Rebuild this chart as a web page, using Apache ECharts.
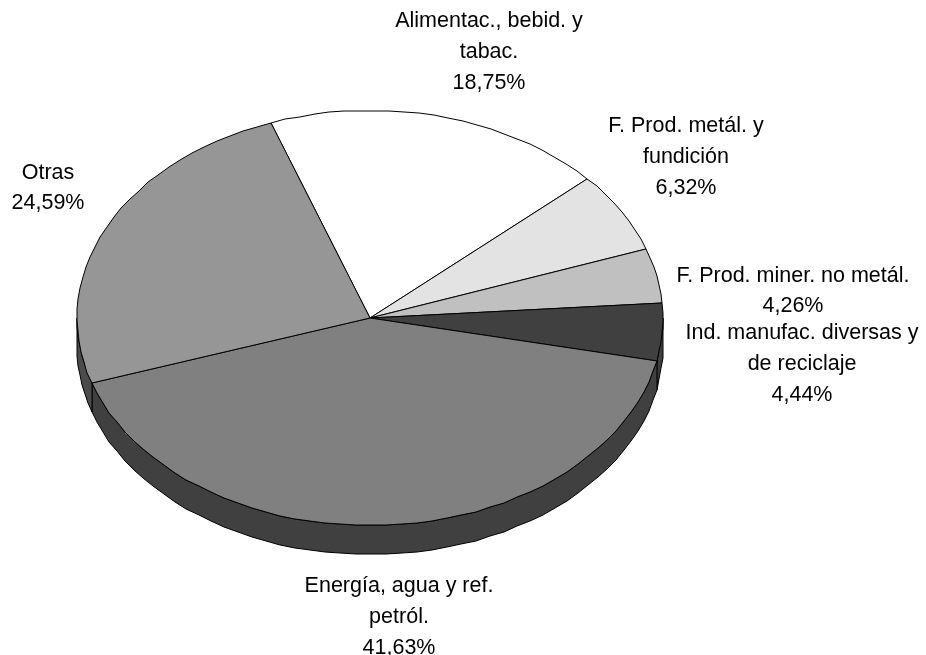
<!DOCTYPE html>
<html>
<head>
<meta charset="utf-8">
<style>html,body{margin:0;padding:0;background:#fff}#c{width:926px;height:655px}</style>
<script src="https://cdn.jsdelivr.net/npm/echarts@6/dist/echarts.min.js"></script>
</head>
<body>
<div id="c"></div>
<script>
var categories = ['Alimentac., bebid. y\ntabac.', 'F. Prod. metál. y\nfundición', 'F. Prod. miner. no metál.', 'Ind. manufac. diversas y\nde reciclaje', 'Energía, agua y ref.\npetról.', 'Otras'];
var values = [18.75, 6.32, 4.26, 4.44, 41.63, 24.59];
var percentLabels = ['18,75%', '6,32%', '4,26%', '4,44%', '41,63%', '24,59%'];
var topColors = ['#ffffff', '#e3e3e3', '#c0c0c0', '#404040', '#808080', '#969696'];
var wallColors = ['#ffffff', '#b0b0b0', '#909090', '#404040', '#404040', '#4b4b4b'];

// layout of the tilted pie
var cx = 370, cy = 318, rx = 293, ry = 207.5, depth = 29, startAngle = 340.3;
// label centres relative to the pie centre
var labelOffsets = [[119, -267], [316, -162], [423, -28], [432, 45], [29, 298], [-322, -131]];

var total = values.reduce(function (a, b) { return a + b; }, 0);
function angleAt(i) {
  var s = 0;
  for (var k = 0; k < i; k++) s += values[k];
  return startAngle + s / total * 360;
}
function pt(t, dy) {
  var r = t * Math.PI / 180;
  return [Math.round(cx + rx * Math.sin(r)), Math.round(cy - ry * Math.cos(r) + (dy || 0))];
}
function arc(a, b, dy) {
  var pts = [], step = 3, n = Math.max(1, Math.ceil(Math.abs(b - a) / step));
  for (var i = 0; i <= n; i++) pts.push(pt(a + (b - a) * i / n, dy));
  return pts;
}

function renderWall(params, api) {
  var i = params.dataIndex;
  var a = Math.max(angleAt(i), 450), b = Math.min(angleAt(i + 1), 630);
  if (b <= a) return { type: 'group', children: [] };
  var pts = arc(a, b, 0).concat(arc(b, a, depth));
  return { type: 'polygon', shape: { points: pts }, style: { fill: wallColors[i], stroke: '#000', lineWidth: 1 } };
}
function renderTop(params, api) {
  var i = params.dataIndex;
  var pts = [[cx, cy]].concat(arc(angleAt(i), angleAt(i + 1), 0));
  return { type: 'polygon', shape: { points: pts }, style: { fill: topColors[i], stroke: '#000', lineWidth: 1 } };
}
function renderLabel(params, api) {
  var i = params.dataIndex;
  var o = labelOffsets[i];
  return {
    type: 'text',
    style: {
      x: cx + o[0], y: cy + o[1] + 1,
      text: categories[i] + '\n' + percentLabels[i],
      fill: '#000', align: 'center', verticalAlign: 'middle',
      font: '21.5px "Liberation Sans", Arial, sans-serif', lineHeight: 30.7
    }
  };
}
var seriesData = values.map(function (v, i) { return { name: categories[i], value: [v] }; });
var chart = echarts.init(document.getElementById('c'), null, { renderer: 'canvas' });
chart.setOption({
  animation: false,
  backgroundColor: '#ffffff',
  series: [
    { type: 'custom', coordinateSystem: 'none', renderItem: renderWall, data: seriesData, z: 1, silent: true },
    { type: 'custom', coordinateSystem: 'none', renderItem: renderTop, data: seriesData, z: 2, silent: true },
    { type: 'custom', coordinateSystem: 'none', renderItem: renderLabel, data: seriesData, z: 3, silent: true }
  ]
});
</script>
</body>
</html>
